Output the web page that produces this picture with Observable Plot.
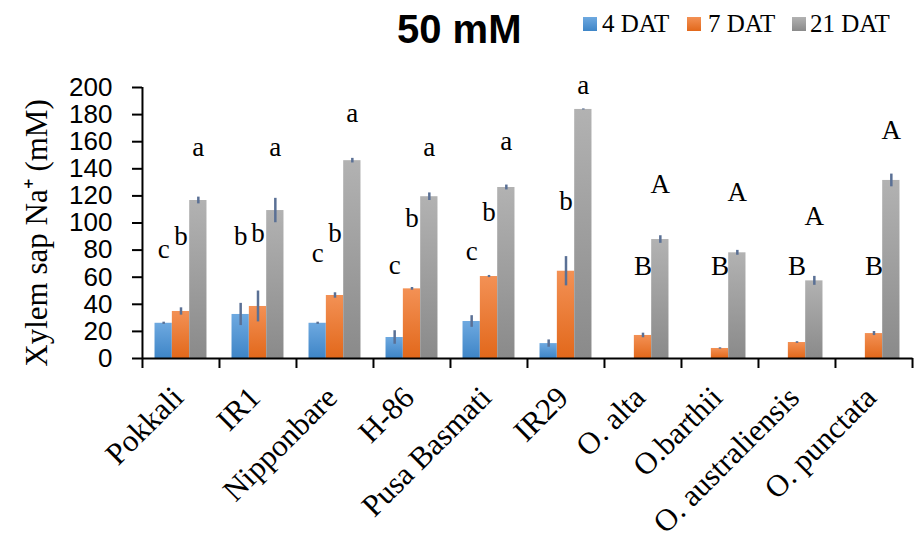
<!DOCTYPE html>
<html>
<head>
<meta charset="utf-8">
<script src="https://cdn.jsdelivr.net/npm/d3@7"></script>
<script src="https://cdn.jsdelivr.net/npm/@observablehq/plot@0.6"></script>
<style>
  body { margin: 0; background: #fff; }
  #wrap { position: relative; width: 920px; height: 539px; overflow: hidden; }
  #head { position: relative; width: 920px; height: 60px; }
  #title { position: absolute; left: 397px; top: 9px; font: bold 40px/40px "Liberation Sans", Arial, sans-serif; color: #000; white-space: nowrap; }
  .sw { position: absolute; top: 17px; width: 14px; height: 14px; }
  .lt { position: absolute; top: 11px; font: 25px/25px "Liberation Serif", "Times New Roman", serif; color: #000; white-space: nowrap; }
</style>
</head>
<body>
<div id="wrap">
  <div id="head">
    <div id="title">50 mM</div>
  </div>
  <div id="chart"></div>
</div>
<script>
// ---- data ----
const categories = ["Pokkali", "IR1", "Nipponbare", "H-86", "Pusa Basmati", "IR29", "O. alta", "O.barthii", "O. australiensis", "O. punctata"];
const seriesNames = ["4 DAT", "7 DAT", "21 DAT"];
const dat4  = [26, 32.5, 26, 15.5, 27.3, 11, null, null, null, null];
const dat7  = [34.7, 38.4, 46.5, 51.4, 60.5, 64.4, 17, 7.4, 11.8, 18.4];
const dat21 = [116.6, 109.2, 146, 119.4, 126.2, 183.8, 87.8, 78, 57.3, 131.4];
const err4  = [0.8, 8.2, 0.8, 5, 4.3, 2.7, null, null, null, null];
const err7  = [2.7, 11.4, 2, 1, 0.8, 10.8, 1.7, 0.5, 0.6, 1.5];
const err21 = [2.5, 9, 1.7, 2.8, 1.8, 0.4, 2.8, 1.8, 3.3, 4.7];
const letters4  = ["c", "b", "c", "c", "c", "", "", "", "", ""];
const letters7  = ["b", "b", "b", "b", "b", "b", "B", "B", "B", "B"];
const letters21 = ["a", "a", "a", "a", "a", "a", "A", "A", "A", "A"];
const letterY4  = [74.3, 83.4, 71.1, 62, 72.8, null, null, null, null, null];
const letterY7  = [83.4, 85.8, 85.8, 96.9, 101.8, 109.7, 61.5, 61.5, 61.5, 61.5];
const letterY21 = [149.8, 149.8, 174.4, 149.8, 154, 195.3, 122.3, 115.9, 98.2, 162.1];
const yTicks = [0, 20, 40, 60, 80, 100, 120, 140, 160, 180, 200];
const yLabel = "Xylem sap Na\u207A (mM)";

// ---- styles ----
const gradients = [
  {id: "g4", top: "#6ea9e0", bottom: "#3e85c7"},
  {id: "g7", top: "#f39155", bottom: "#e2681b"},
  {id: "g21", top: "#b2b2b2", bottom: "#8a8a8a"}
];
const errColor = "#5a7095";

// legend (HTML, above the svg)
const head = document.getElementById("head");
const legendPos = [[583, 602], [687, 708], [792, 810]];
seriesNames.forEach((s, j) => {
  const sw = document.createElement("div");
  sw.className = "sw";
  sw.style.left = legendPos[j][0] + "px";
  sw.style.background = `linear-gradient(${gradients[j].top}, ${gradients[j].bottom})`;
  head.appendChild(sw);
  const t = document.createElement("div");
  t.className = "lt";
  t.style.left = legendPos[j][1] + "px";
  t.textContent = s;
  head.appendChild(t);
});

// ---- build rows ----
const values = [dat4, dat7, dat21];
const errs = [err4, err7, err21];
const letters = [letters4, letters7, letters21];
const letterYs = [letterY4, letterY7, letterY21];
const rows = seriesNames.map((s, j) =>
  categories.map((c, i) => ({cat: c, v: values[j][i], e: errs[j][i], lab: letters[j][i], ly: letterYs[j][i]}))
);

const width = 920, height = 479;
const marginLeft = 142, marginRight = 7.5, marginTop = 27, marginBottom = 181;
const bw = (width - marginLeft - marginRight) / categories.length;
const w = bw * 0.225;
const pxPerUnit = (height - marginTop - marginBottom) / 200;
const tickLen = 10 / pxPerUnit;

const marks = [];
rows.forEach((r, j) => {
  const insetLeft = bw / 2 - 1.5 * w + j * w;
  const insetRight = bw - insetLeft - w;
  const off = (j - 1) * w;
  const withV = r.filter(d => d.v != null);
  marks.push(Plot.barY(withV, {x: "cat", y: "v", fill: `url(#${gradients[j].id})`, insetLeft, insetRight}));
  marks.push(Plot.ruleX(withV, {x: "cat", y1: d => d.v - d.e, y2: d => d.v + d.e, dx: off, stroke: errColor, strokeWidth: 2.5}));
  marks.push(Plot.text(r.filter(d => d.lab), {x: "cat", y: "ly", text: "lab", dx: off, lineAnchor: "bottom", fontSize: 27, fontFamily: "Liberation Serif", fill: "#000"}));
});

// axes
marks.push(Plot.ruleY([0], {stroke: "#000", strokeWidth: 2}));
marks.push(Plot.ruleX(categories, {x: d => d, dx: -bw / 2, y1: -tickLen, y2: 0, stroke: "#000", strokeWidth: 2}));
marks.push(Plot.ruleX([categories[categories.length - 1]], {x: d => d, dx: bw / 2, y1: -tickLen, y2: 0, stroke: "#000", strokeWidth: 2}));
marks.push(Plot.ruleX([categories[0]], {x: d => d, dx: -bw / 2, y1: 0, y2: 200, stroke: "#000", strokeWidth: 2}));
marks.push(Plot.axisY({ticks: yTicks, tickSize: 10, tickPadding: 20, fontSize: 26, fontFamily: "Liberation Sans", strokeWidth: 2, label: null, color: "#000"}));
marks.push(Plot.axisX({tickSize: 0, tickRotate: -45, tickPadding: 34, dx: -3, fontSize: 31, fontFamily: "Liberation Serif", label: null, color: "#000"}));
marks.push(Plot.text([yLabel], {frameAnchor: "left", textAnchor: "middle", dx: -105, dy: 10, rotate: -90, fontSize: 31, fontFamily: "Liberation Serif", fill: "#000"}));

const svg = Plot.plot({
  width, height, marginLeft, marginRight, marginTop, marginBottom,
  x: {type: "band", domain: categories, padding: 0, axis: null},
  y: {domain: [0, 200], axis: null},
  style: {background: "#fff", overflow: "visible"},
  marks
});

const ns = "http://www.w3.org/2000/svg";
const defs = document.createElementNS(ns, "defs");
defs.innerHTML = gradients.map(g =>
  `<linearGradient id="${g.id}" x1="0" y1="0" x2="0" y2="1"><stop offset="0" stop-color="${g.top}"/><stop offset="1" stop-color="${g.bottom}"/></linearGradient>`
).join("");
svg.insertBefore(defs, svg.firstChild);
document.getElementById("chart").appendChild(svg);
</script>
</body>
</html>
